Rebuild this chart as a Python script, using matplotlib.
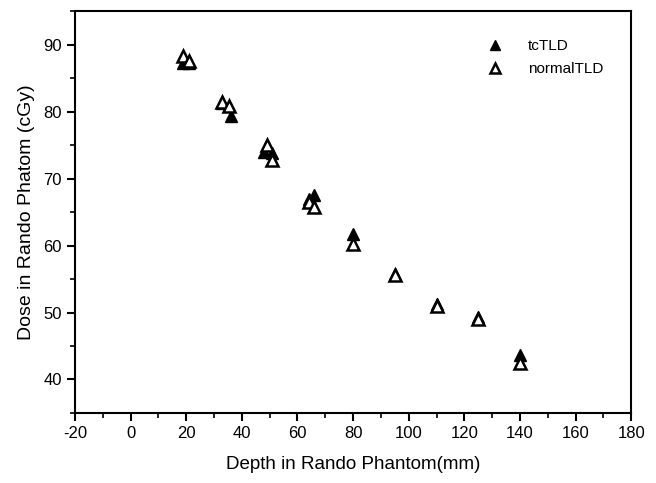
import matplotlib.pyplot as plt
from matplotlib.ticker import MultipleLocator

plt.rcParams["font.family"] = ["Liberation Sans", "DejaVu Sans"]
plt.rcParams["axes.unicode_minus"] = False

# depth (mm) and dose (cGy)
tc_depth = [19, 21, 33, 36, 48, 51, 64, 66, 80, 95, 110, 125, 140]
tc_dose = [87.2, 87.2, 81.3, 79.4, 74.0, 73.8, 67.0, 67.5, 61.7, 55.8, 51.2, 49.3, 43.6]

normal_depth = [19, 21, 33, 35.5, 49, 51, 64, 66, 80, 95, 110, 125, 140]
normal_dose = [88.3, 87.6, 81.5, 80.9, 75.0, 72.8, 66.5, 65.8, 60.2, 55.6, 50.9, 49.1, 42.5]


def main() -> None:
    fig = plt.figure(figsize=(6.56, 4.83), dpi=100)
    ax = fig.add_axes([0.1143, 0.145, 0.848, 0.832])

    ax.plot(tc_depth, tc_dose, linestyle="none", marker="^", markersize=8,
            color="black", label="tcTLD")
    ax.plot(normal_depth, normal_dose, linestyle="none", marker="^", markersize=8,
            markerfacecolor="white", markeredgecolor="black", markeredgewidth=1.8,
            label="normalTLD")

    ax.set_xlim(-20, 180)
    ax.set_ylim(35, 95)
    ax.xaxis.set_major_locator(MultipleLocator(20))
    ax.xaxis.set_minor_locator(MultipleLocator(10))
    ax.yaxis.set_major_locator(MultipleLocator(10))
    ax.yaxis.set_minor_locator(MultipleLocator(5))
    ax.set_yticks([40, 50, 60, 70, 80, 90])

    ax.tick_params(which="major", direction="out", length=6, width=1.5, labelsize=12)
    ax.tick_params(which="minor", direction="out", length=3.5, width=1.2)
    for side in ["left", "right", "top", "bottom"]:
        ax.spines[side].set_linewidth(1.5)

    ax.set_xlabel("Depth in Rando Phantom(mm)", fontsize=13.5, labelpad=11)
    ax.set_ylabel("Dose in Rando Phatom (cGy)", fontsize=14, labelpad=6)

    ax.legend(loc="upper right", bbox_to_anchor=(0.975, 0.965), frameon=False,
              fontsize=11, markerscale=0.85, handletextpad=1.2, labelspacing=0.6)

    fig.savefig("out.png", dpi=100)
    plt.close(fig)


if __name__ == "__main__":
    main()
